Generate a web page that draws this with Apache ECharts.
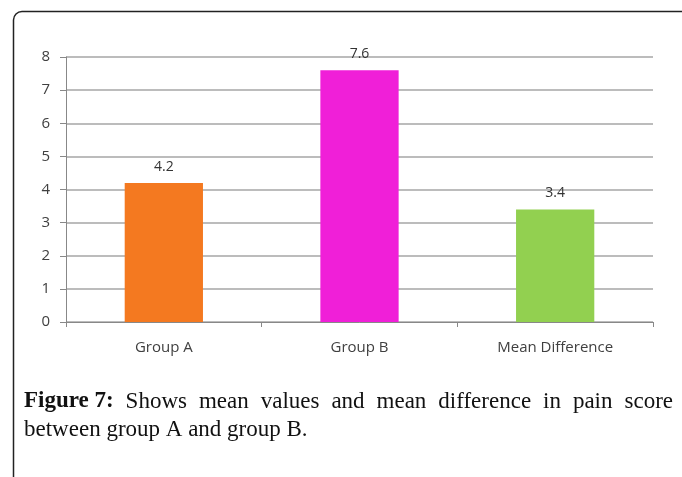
<!DOCTYPE html>
<html><head><meta charset="utf-8">
<script src="https://cdn.jsdelivr.net/npm/echarts@6/dist/echarts.min.js"></script>
<style>html,body{margin:0;padding:0;background:#fff;}#c{width:682px;height:477px;}</style>
</head><body><div id="c"></div>
<script>
const categories = ['Group A', 'Group B', 'Mean Difference'];
const values = [4.2, 7.6, 3.4];
const barColors = ['#F47920', '#F01FD8', '#92D050'];
const yTicks = [0, 1, 2, 3, 4, 5, 6, 7, 8];
const captionBold = 'Figure 7:';
const captionLine1 = 'Shows mean values and mean difference in pain score';
const captionLine2 = 'between group A and group B.';

const chart = echarts.init(document.getElementById('c'), null, {renderer: 'canvas'});

const cv = document.createElement('canvas').getContext('2d');
const serif = '"Liberation Serif", "DejaVu Serif", serif';
const fs = 23;
function w(t, bold) { cv.font = (bold ? 'bold ' : '') + fs + 'px ' + serif; return cv.measureText(t).width; }
const left = 24, right = 673;
const words = [captionBold].concat(captionLine1.split(' '));
let total = 0;
words.forEach((t, i) => total += w(t, i === 0));
const gap = (right - left - total) / (words.length - 1);
const g = [];
let x = left;
words.forEach((t, i) => {
  g.push({type: 'text', x: x, y: 390, style: {text: t, font: (i === 0 ? 'bold ' : '') + fs + 'px ' + serif, fill: '#111'}});
  x += w(t, i === 0) + gap;
});
g.push({type: 'text', x: left, y: 418, style: {text: captionLine2, font: fs + 'px ' + serif, fill: '#111'}});
g.push({type: 'line', shape: {x1: 13.5, y1: 20, x2: 13.5, y2: 477}, style: {stroke: '#222', lineWidth: 1.5}});
g.push({type: 'line', shape: {x1: 22, y1: 11.5, x2: 682, y2: 11.5}, style: {stroke: '#222', lineWidth: 1.5}});
g.push({type: 'arc', shape: {cx: 22, cy: 20, r: 8.5, startAngle: Math.PI, endAngle: Math.PI * 1.5}, style: {stroke: '#222', lineWidth: 1.5, fill: null}});

chart.setOption({
  animation: false,
  grid: {left: 66, right: 29, top: 57, bottom: 155},
  xAxis: {
    type: 'category', data: categories,
    axisLine: {lineStyle: {color: '#888', width: 1}},
    axisTick: {show: true, length: 5, lineStyle: {color: '#888'}},
    axisLabel: {color: '#404040', fontSize: 15, fontFamily: 'Open Sans, sans-serif', margin: 18}
  },
  yAxis: {
    type: 'value', min: yTicks[0], max: yTicks[yTicks.length - 1], interval: 1,
    axisLine: {show: true, lineStyle: {color: '#888', width: 1}},
    axisTick: {show: true, length: 6, lineStyle: {color: '#888'}},
    splitLine: {lineStyle: {color: '#A6A6A6', width: 1.5}},
    axisLabel: {color: '#404040', fontSize: 15, fontFamily: 'Open Sans, sans-serif', margin: 16}
  },
  series: [{
    type: 'bar', barWidth: '40%',
    data: values.map((v, i) => ({value: v, itemStyle: {color: barColors[i]}})),
    label: {show: true, position: 'top', distance: 9, color: '#333', fontSize: 14, fontFamily: 'Open Sans, sans-serif'}
  }],
  graphic: g
});
</script></body></html>
